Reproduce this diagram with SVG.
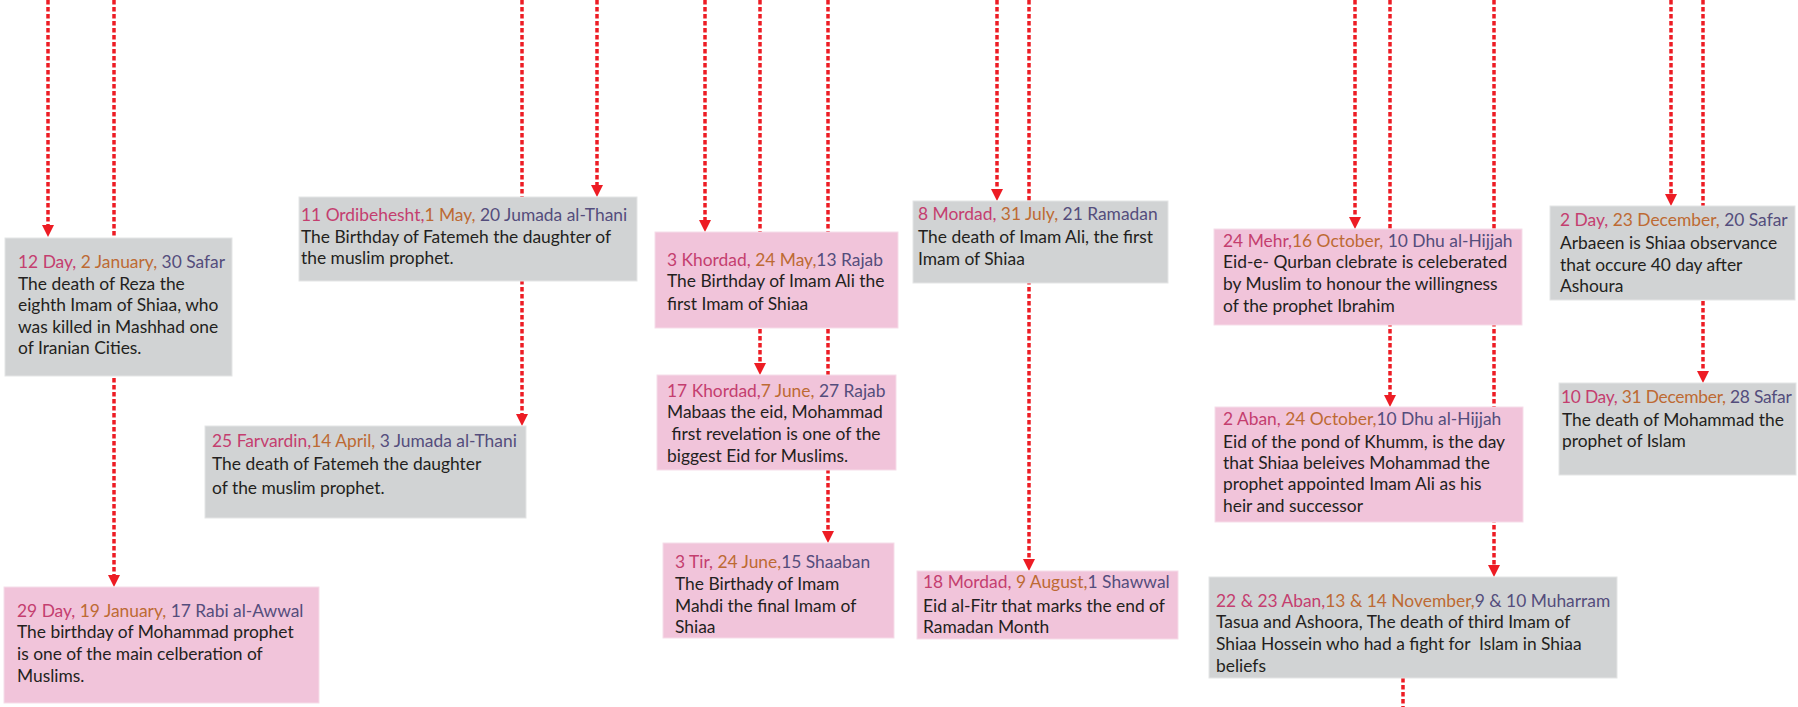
<svg xmlns="http://www.w3.org/2000/svg" width="1798" height="707" viewBox="0 0 1798 707">
  <style>
    text { font-family: Lato, "Open Sans", "Liberation Sans", sans-serif; font-size: 17.4px; fill: #231f20; white-space: pre; }
    .fa { fill: #c43e6f; }
    .gr { fill: #bd6a33; }
    .hj { fill: #544d7c; }
    .tight { letter-spacing: -0.25px; }
    .gray { fill: #d1d3d4; stroke: #e4e5e6; stroke-width: 1; }
    .pink { fill: #f1c4da; stroke: #f6dde9; stroke-width: 1; }
    .link { stroke: #ed1c24; stroke-width: 3.5; stroke-dasharray: 4.5 2.5; fill: none; }
  </style>
  <defs>
    <marker id="arrow" viewBox="0 0 12 12" refX="0" refY="6" markerWidth="12" markerHeight="12" markerUnits="userSpaceOnUse" orient="auto">
      <path d="M0,0 L12,6 L0,12 z" fill="#ed1c24"/>
    </marker>
  </defs>
  <rect width="1798" height="707" fill="#ffffff"/>

  <!-- connectors: dotted drop lines from the timeline above -->
  <g id="connectors">
    <line class="link" x1="48" y1="0" x2="48" y2="225" marker-end="url(#arrow)"/>
    <line class="link" x1="114" y1="0" x2="114" y2="575" marker-end="url(#arrow)"/>
    <line class="link" x1="522" y1="0" x2="522" y2="414" marker-end="url(#arrow)"/>
    <line class="link" x1="597" y1="0" x2="597" y2="185" marker-end="url(#arrow)"/>
    <line class="link" x1="705" y1="0" x2="705" y2="220" marker-end="url(#arrow)"/>
    <line class="link" x1="760" y1="0" x2="760" y2="363" marker-end="url(#arrow)"/>
    <line class="link" x1="828" y1="0" x2="828" y2="531" marker-end="url(#arrow)"/>
    <line class="link" x1="997" y1="0" x2="997" y2="189" marker-end="url(#arrow)"/>
    <line class="link" x1="1029" y1="0" x2="1029" y2="559" marker-end="url(#arrow)"/>
    <line class="link" x1="1355" y1="0" x2="1355" y2="217" marker-end="url(#arrow)"/>
    <line class="link" x1="1390" y1="0" x2="1390" y2="395" marker-end="url(#arrow)"/>
    <line class="link" x1="1494" y1="0" x2="1494" y2="565" marker-end="url(#arrow)"/>
    <line class="link" x1="1403" y1="678" x2="1403" y2="707"/>
    <line class="link" x1="1671" y1="0" x2="1671" y2="194" marker-end="url(#arrow)"/>
    <line class="link" x1="1703" y1="0" x2="1703" y2="371" marker-end="url(#arrow)"/>
  </g>

  <g id="n-12-day">
    <rect class="gray" x="5" y="238" width="227" height="138"/>
    <text x="18" y="268"><tspan class="fa">12 Day,</tspan><tspan class="gr"> 2 January,</tspan><tspan class="hj"> 30 Safar</tspan></text>
    <text x="18" y="290">The death of Reza the</text>
    <text x="18" y="311">eighth Imam of Shiaa, who</text>
    <text x="18" y="333">was killed in Mashhad one</text>
    <text x="18" y="354">of Iranian Cities.</text>
  </g>

  <g id="n-29-day">
    <rect class="pink" x="4" y="587" width="315" height="116"/>
    <text x="17" y="617"><tspan class="fa">29 Day,</tspan><tspan class="gr"> 19 January,</tspan><tspan class="hj"> 17 Rabi al-Awwal</tspan></text>
    <text x="17" y="638">The birthday of Mohammad prophet</text>
    <text x="17" y="660">is one of the main celberation of</text>
    <text x="17" y="682">Muslims.</text>
  </g>

  <g id="n-11-ordibehesht">
    <rect class="gray" x="299" y="197" width="338" height="84"/>
    <text x="301" y="221"><tspan class="fa">11 Ordibehesht,</tspan><tspan class="gr">1 May,</tspan><tspan class="hj"> 20 Jumada al-Thani</tspan></text>
    <text x="301" y="243">The Birthday of Fatemeh the daughter of</text>
    <text x="301" y="264">the muslim prophet.</text>
  </g>

  <g id="n-25-farvardin">
    <rect class="gray" x="205" y="426" width="321" height="92"/>
    <text x="212" y="447"><tspan class="fa">25 Farvardin,</tspan><tspan class="gr">14 April,</tspan><tspan class="hj"> 3 Jumada al-Thani</tspan></text>
    <text x="212" y="470">The death of Fatemeh the daughter</text>
    <text x="212" y="494">of the muslim prophet.</text>
  </g>

  <g id="n-3-khordad">
    <rect class="pink" x="655" y="232" width="243" height="96"/>
    <text x="667" y="266"><tspan class="fa">3 Khordad,</tspan><tspan class="gr"> 24 May,</tspan><tspan class="hj">13 Rajab</tspan></text>
    <text x="667" y="287">The Birthday of Imam Ali the</text>
    <text x="667" y="310">first Imam of Shiaa</text>
  </g>

  <g id="n-17-khordad">
    <rect class="pink" x="657" y="375" width="239" height="95"/>
    <text x="667" y="397"><tspan class="fa">17 Khordad,</tspan><tspan class="gr">7 June,</tspan><tspan class="hj"> 27 Rajab</tspan></text>
    <text x="667" y="418">Mabaas the eid, Mohammad</text>
    <text x="667" y="440"> first revelation is one of the</text>
    <text x="667" y="462">biggest Eid for Muslims.</text>
  </g>

  <g id="n-3-tir">
    <rect class="pink" x="663" y="543" width="231" height="95"/>
    <text x="675" y="568"><tspan class="fa">3 Tir,</tspan><tspan class="gr"> 24 June,</tspan><tspan class="hj">15 Shaaban</tspan></text>
    <text x="675" y="590">The Birthady of Imam</text>
    <text x="675" y="612">Mahdi the final Imam of</text>
    <text x="675" y="633">Shiaa</text>
  </g>

  <g id="n-8-mordad">
    <rect class="gray" x="913" y="201" width="255" height="82"/>
    <text x="918" y="220"><tspan class="fa">8 Mordad,</tspan><tspan class="gr"> 31 July,</tspan><tspan class="hj"> 21 Ramadan</tspan></text>
    <text x="918" y="243">The death of Imam Ali, the first</text>
    <text x="918" y="265">Imam of Shiaa</text>
  </g>

  <g id="n-18-mordad">
    <rect class="pink" x="917" y="571" width="261" height="68"/>
    <text x="923" y="588"><tspan class="fa">18 Mordad,</tspan><tspan class="gr"> 9 August,</tspan><tspan class="hj">1 Shawwal</tspan></text>
    <text x="923" y="612">Eid al-Fitr that marks the end of</text>
    <text x="923" y="633">Ramadan Month</text>
  </g>

  <g id="n-24-mehr">
    <rect class="pink" x="1214" y="229" width="308" height="96"/>
    <text x="1223" y="247"><tspan class="fa">24 Mehr,</tspan><tspan class="gr">16 October,</tspan><tspan class="hj"> 10 Dhu al-Hijjah</tspan></text>
    <text x="1223" y="268">Eid-e- Qurban clebrate is celeberated</text>
    <text x="1223" y="290">by Muslim to honour the willingness</text>
    <text x="1223" y="312">of the prophet Ibrahim</text>
  </g>

  <g id="n-2-aban">
    <rect class="pink" x="1215" y="407" width="308" height="115"/>
    <text x="1223" y="425"><tspan class="fa">2 Aban,</tspan><tspan class="gr"> 24 October,</tspan><tspan class="hj">10 Dhu al-Hijjah</tspan></text>
    <text x="1223" y="448">Eid of the pond of Khumm, is the day</text>
    <text x="1223" y="469">that Shiaa beleives Mohammad the</text>
    <text x="1223" y="490">prophet appointed Imam Ali as his</text>
    <text x="1223" y="512">heir and successor</text>
  </g>

  <g id="n-22-23-aban">
    <rect class="gray" x="1209" y="577" width="408" height="101"/>
    <text x="1216" y="607"><tspan class="fa">22 &amp; 23 Aban,</tspan><tspan class="gr">13 &amp; 14 November,</tspan><tspan class="hj">9 &amp; 10 Muharram</tspan></text>
    <text x="1216" y="628">Tasua and Ashoora, The death of third Imam of</text>
    <text x="1216" y="650">Shiaa Hossein who had a fight for  Islam in Shiaa</text>
    <text x="1216" y="672">beliefs</text>
  </g>

  <g id="n-2-day">
    <rect class="gray" x="1550" y="206" width="245" height="94"/>
    <text x="1560" y="226"><tspan class="fa">2 Day,</tspan><tspan class="gr"> 23 December,</tspan><tspan class="hj"> 20 Safar</tspan></text>
    <text x="1560" y="249">Arbaeen is Shiaa observance</text>
    <text x="1560" y="271">that occure 40 day after</text>
    <text x="1560" y="292">Ashoura</text>
  </g>

  <g id="n-10-day">
    <rect class="gray" x="1559" y="383" width="237" height="92"/>
    <text class="tight" x="1561" y="403"><tspan class="fa">10 Day,</tspan><tspan class="gr"> 31 December,</tspan><tspan class="hj"> 28 Safar</tspan></text>
    <text x="1562" y="426">The death of Mohammad the</text>
    <text x="1562" y="447">prophet of Islam</text>
  </g>
</svg>
